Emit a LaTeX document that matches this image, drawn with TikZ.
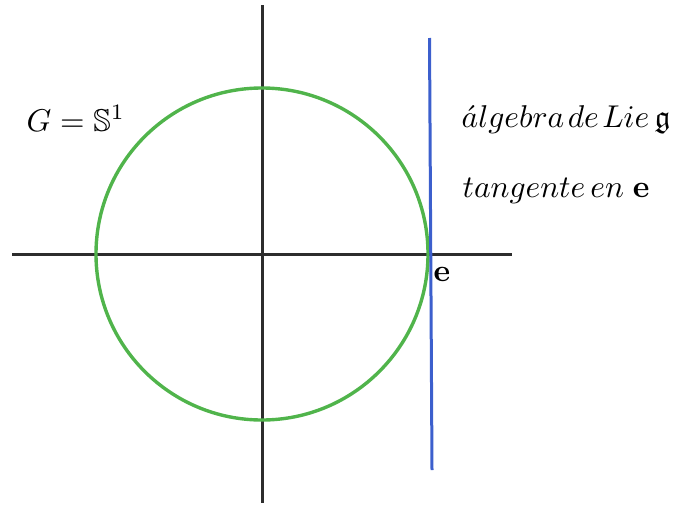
\documentclass[tikz,border=0pt]{standalone}
\usepackage{amssymb}
\definecolor{axisgray}{RGB}{45,45,45}
\definecolor{circgreen}{RGB}{80,180,75}
\definecolor{tanblue}{RGB}{60,95,205}
\begin{document}
\begin{tikzpicture}[x=1pt,y=-1pt,
  axis/.style={draw=axisgray,line width=3pt},
  lbl/.style={anchor=base west,inner sep=0pt,scale=3.15}]
\useasboundingbox (0,0) rectangle (679,506);
\coordinate (O) at (262,254);
\coordinate (xl) at (12,254);
\coordinate (xr) at (512,254);
\coordinate (yt) at (262,5);
\coordinate (yb) at (262,503);
\coordinate (tt) at (429.5,38);
\coordinate (tb) at (432,470);
\draw[axis] (xl) -- (xr);
\draw[axis] (yt) -- (yb);
\draw[circgreen,line width=3.4pt] (O) circle[radius=166];
\draw[tanblue,line width=3pt] (tt) -- (tb);
\node[lbl] (G) at (26,131) {$G=\mathbb{S}^1$};
\node[lbl] (alg) at (461,127) {$\acute{a}lgebra\mkern2mu de\mkern2mu Lie\,\mathfrak{g}$};
\node[lbl] (tan) at (462,197) {$tangente\,en\;\mathbf{e}$};
\node[lbl] (e) at (433,281) {$\mathbf{e}$};
\end{tikzpicture}
\end{document}
